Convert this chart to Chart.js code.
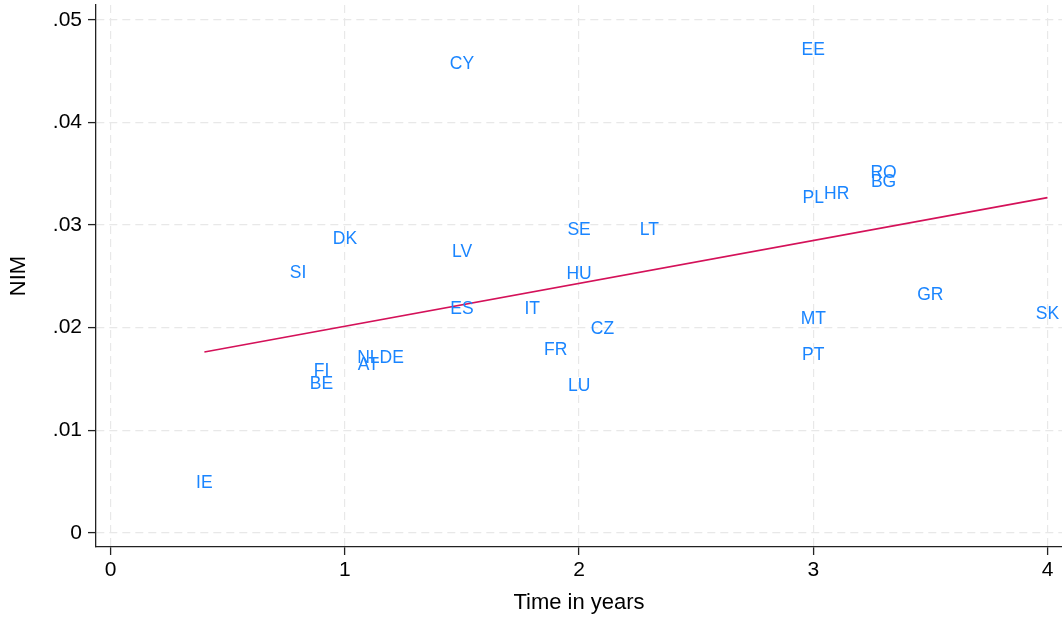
<!DOCTYPE html>
<html>
<head>
<meta charset="utf-8">
<script src="https://cdn.jsdelivr.net/npm/chart.js@4"></script>
<style>
  html, body { margin: 0; padding: 0; background: #fff; }
  #wrap { width: 1062px; height: 618px; }
</style>
</head>
<body>
<div id="wrap"><canvas id="nimChart" width="1062" height="618"></canvas></div>
<script>
// country codes, time in years, NIM
const countries = ['CY', 'EE', 'RO', 'BG', 'PL', 'HR', 'SE', 'LT', 'DK', 'LV', 'SI', 'HU', 'GR', 'SK',
  'ES', 'IT', 'MT', 'CZ', 'FR', 'PT', 'NL', 'DE', 'AT', 'FI', 'BE', 'LU', 'IE'];
const years = [1.5, 3.0, 3.3, 3.3, 3.0, 3.1, 2.0, 2.3, 1.0, 1.5, 0.8, 2.0, 3.5, 4.0,
  1.5, 1.8, 3.0, 2.1, 1.9, 3.0, 1.1, 1.2, 1.1, 0.9, 0.9, 2.0, 0.4];
const nim = [0.0458, 0.0472, 0.0352, 0.0343, 0.0327, 0.0331, 0.0296, 0.0296, 0.0287, 0.0275, 0.0254, 0.0253, 0.0233, 0.0214,
  0.0219, 0.0219, 0.0209, 0.0199, 0.0179, 0.0174, 0.0171, 0.0171, 0.0164, 0.0159, 0.0146, 0.0144, 0.0049];

// fitted line end points
const fitX = [0.4, 4.0];
const fitY = [0.01762, 0.03268];

const xTicks = [0, 1, 2, 3, 4];
const xTickLabels = ['0', '1', '2', '3', '4'];
const yTicks = [0, 0.01, 0.02, 0.03, 0.04, 0.05];
const yTickLabels = ['0', '.01', '.02', '.03', '.04', '.05'];

const FONT = 'Liberation Sans, Arial, Helvetica, sans-serif';
const LABEL_COLOR = 'rgb(26,133,255)';
const FIT_COLOR = 'rgb(212,17,89)';

// draws the country codes at each point
const markerLabels = {
  id: 'markerLabels',
  afterDatasetsDraw(chart) {
    const ctx = chart.ctx;
    const meta = chart.getDatasetMeta(0);
    ctx.save();
    ctx.font = '17.5px ' + FONT;
    ctx.fillStyle = LABEL_COLOR;
    ctx.textAlign = 'center';
    ctx.textBaseline = 'middle';
    meta.data.forEach((pt, i) => {
      ctx.fillText(countries[i], pt.x, pt.y + 1);
    });
    ctx.restore();
  }
};

const ctx = document.getElementById('nimChart').getContext('2d');
new Chart(ctx, {
  type: 'scatter',
  data: {
    datasets: [{
      label: 'NIM',
      data: years.map((x, i) => ({ x: x, y: nim[i] })),
      pointRadius: 0,
      pointHoverRadius: 0,
      showLine: false
    }, {
      label: 'Fitted values',
      type: 'line',
      data: fitX.map((x, i) => ({ x: x, y: fitY[i] })),
      borderColor: FIT_COLOR,
      borderWidth: 1.6,
      pointRadius: 0,
      fill: false,
      tension: 0
    }]
  },
  options: {
    responsive: false,
    animation: false,
    layout: { padding: { top: 5, right: 0, left: 0, bottom: 0 } },
    plugins: {
      legend: { display: false },
      tooltip: { enabled: false }
    },
    scales: {
      x: {
        type: 'linear',
        min: -0.0628,
        max: 4.062,
        afterBuildTicks: s => { s.ticks = xTicks.map(v => ({ value: v })); },
        afterFit: s => { s.height = 71; s.paddingLeft = 0; s.paddingRight = 0; },
        ticks: {
          autoSkip: false,
          maxRotation: 0,
          padding: 3,
          color: '#000',
          font: { family: FONT, size: 21 },
          callback: v => xTickLabels[xTicks.indexOf(v)]
        },
        grid: {
          color: '#e8e8e8',
          lineWidth: 1.2,
          tickColor: '#222',
          tickLength: 8,
          tickWidth: 1.3
        },
        border: { color: '#222', width: 1.3, dash: [8, 5] },
        title: {
          display: true,
          text: 'Time in years',
          color: '#000',
          font: { family: FONT, size: 22, lineHeight: 1.2 },
          padding: { top: 0, bottom: 2 }
        }
      },
      y: {
        type: 'linear',
        min: -0.00139,
        max: 0.05146,
        afterBuildTicks: s => { s.ticks = yTicks.map(v => ({ value: v })); },
        afterFit: s => { s.width = 96; s.paddingTop = 0; s.paddingBottom = 0; },
        ticks: {
          autoSkip: false,
          padding: 6,
          color: '#000',
          font: { family: FONT, size: 21 },
          callback: v => yTickLabels[yTicks.indexOf(v)]
        },
        grid: {
          color: '#e8e8e8',
          lineWidth: 1.2,
          tickColor: '#222',
          tickLength: 8,
          tickWidth: 1.3
        },
        border: { color: '#222', width: 1.3, dash: [8, 5] },
        title: {
          display: true,
          text: 'NIM',
          color: '#000',
          font: { family: FONT, size: 22, lineHeight: 1.2 },
          padding: { top: 6, bottom: 0 }
        }
      }
    }
  },
  plugins: [markerLabels]
});
</script>
</body>
</html>
